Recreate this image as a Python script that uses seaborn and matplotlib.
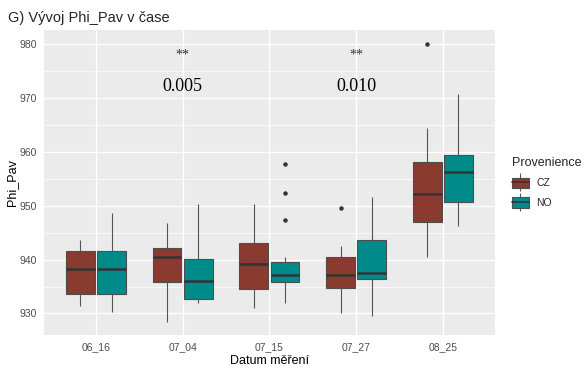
import pandas as pd
import matplotlib.pyplot as plt
import seaborn as sns
from matplotlib.patches import Patch
from matplotlib.lines import Line2D
from matplotlib.legend_handler import HandlerTuple

dates = ["06_16", "07_04", "07_15", "07_27", "08_25"]
provenance = ["CZ", "NO"]

cz_0616 = [931.4, 932.5, 933.7, 936.0, 938.2, 939.8, 941.5, 942.6, 943.6]
no_0616 = [930.3, 932.0, 933.6, 936.5, 938.3, 940.0, 941.5, 944.8, 948.6]
cz_0704 = [928.4, 933.0, 935.9, 938.5, 940.5, 941.3, 942.1, 944.0, 946.7]
no_0704 = [932.0, 932.3, 932.6, 934.2, 936.0, 938.0, 940.1, 944.5, 950.4]
cz_0715 = [931.1, 932.8, 934.5, 937.0, 939.1, 941.0, 943.0, 946.5, 950.4]
no_0715 = [932.0, 933.5, 934.5, 935.3, 935.9, 936.2, 936.5, 936.8, 937.1,
           937.8, 938.5, 939.0, 939.6, 940.5, 947.4, 952.4, 957.7]
cz_0727 = [930.0, 931.5, 933.0, 934.8, 935.5, 936.3, 937.1, 938.2, 939.4,
           940.5, 941.5, 942.5, 949.6]
no_0727 = [929.6, 933.0, 936.4, 937.0, 937.5, 940.5, 943.7, 947.5, 951.6]
cz_0825 = [940.5, 943.0, 945.0, 946.9, 948.5, 950.5, 952.1, 954.0, 956.0,
           958.1, 960.5, 964.5, 980.0]
no_0825 = [946.3, 948.5, 950.6, 953.5, 956.2, 957.8, 959.4, 965.0, 970.7]

groups = {
    ("06_16", "CZ"): cz_0616, ("06_16", "NO"): no_0616,
    ("07_04", "CZ"): cz_0704, ("07_04", "NO"): no_0704,
    ("07_15", "CZ"): cz_0715, ("07_15", "NO"): no_0715,
    ("07_27", "CZ"): cz_0727, ("07_27", "NO"): no_0727,
    ("08_25", "CZ"): cz_0825, ("08_25", "NO"): no_0825,
}

# p-values shown above two of the dates
annot_dates = ["07_04", "07_27"]
annot_pvals = ["0.005", "0.010"]
annot_stars = ["**", "**"]

rows = []
for (d, p), vals in groups.items():
    for v in vals:
        rows.append({"Datum": d, "Provenience": p, "Phi_Pav": v})
df = pd.DataFrame(rows)

colors = {"CZ": "#8B3A2F", "NO": "#008B8B"}

sns.set_style("darkgrid", {"axes.facecolor": "#EBEBEB", "grid.color": "white"})
plt.rcParams["font.family"] = ["Liberation Sans", "DejaVu Sans"]

fig = plt.figure(figsize=(5.87, 3.71), dpi=100)
ax = fig.add_axes([0.075, 0.097, 0.768, 0.822])

sns.boxplot(data=df, x="Datum", y="Phi_Pav", hue="Provenience",
            order=dates, hue_order=provenance, palette=colors,
            width=0.72, gap=0.08, linewidth=0.8, linecolor="#4D4D4D",
            showcaps=False, saturation=1, legend=False,
            medianprops=dict(color="#333333", linewidth=1.8),
            whiskerprops=dict(color="#555555", linewidth=0.8),
            flierprops=dict(marker="o", markersize=2.2, markerfacecolor="#333333",
                            markeredgecolor="#333333"),
            ax=ax)

ax.set_xlim(-0.6, 4.6)
ax.set_ylim(926.0, 982.6)
ax.set_yticks([930, 940, 950, 960, 970, 980])
ax.set_yticks([935, 945, 955, 965, 975], minor=True)
ax.grid(which="major", color="white", linewidth=1.0)
ax.grid(which="minor", axis="y", color="white", linewidth=0.5)
ax.set_axisbelow(True)
for s in ax.spines.values():
    s.set_visible(False)
ax.tick_params(axis="both", which="major", length=3, width=0.8, color="#4D4D4D",
               labelsize=7.5, labelcolor="#4D4D4D", pad=2)
ax.tick_params(axis="y", which="minor", length=0)

ax.set_xlabel("Datum měření", fontsize=9, color="black", labelpad=2)
ax.set_ylabel("Phi_Pav", fontsize=9, color="black", labelpad=1)

for d, pv, st in zip(annot_dates, annot_pvals, annot_stars):
    i = dates.index(d)
    ax.text(i, 977.9, st, ha="center", va="center", fontsize=10,
            family="Liberation Serif", color="#333333")
    ax.text(i, 972.2, pv, ha="center", va="center", fontsize=13,
            family="Liberation Serif", color="black")

fig.text(0.0136, 0.951, "G) Vývoj Phi_Pav v čase", fontsize=10.5,
         ha="left", va="center")

handles = []
for p in provenance:
    whisk = Line2D([], [], color="#555555", marker="|", markersize=13,
                   linestyle="none", markeredgewidth=0.8)
    box = Patch(facecolor=colors[p], edgecolor="#4D4D4D", linewidth=0.8)
    med = Line2D([], [], color="#333333", linewidth=1.2)
    handles.append((whisk, box, med))

fig.legend(handles, provenance, title="Provenience",
           handler_map={tuple: HandlerTuple(ndivide=1)},
           loc="upper left", bbox_to_anchor=(0.872, 0.577), frameon=False,
           fontsize=7.5, title_fontsize=9, handlelength=1.65, handleheight=1.15,
           handletextpad=0.7, labelspacing=0.85, alignment="left",
           borderaxespad=0, borderpad=0)

fig.savefig("out.png", dpi=100)
